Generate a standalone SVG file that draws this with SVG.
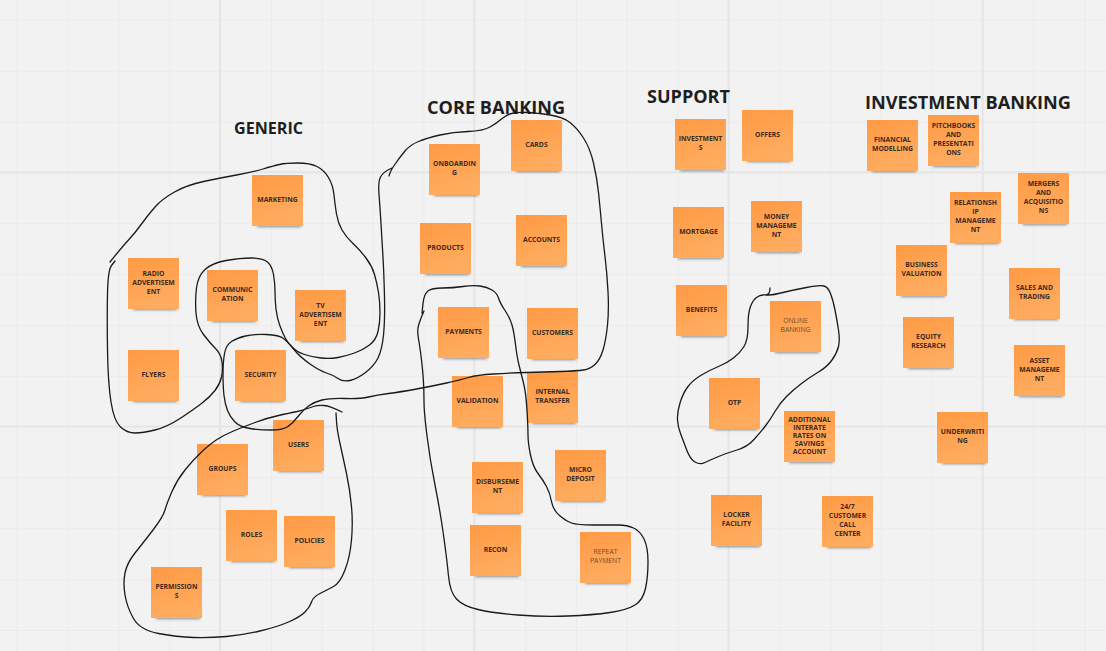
<svg xmlns="http://www.w3.org/2000/svg" width="1106" height="651" viewBox="0 0 1106 651">
<style>
.bg{fill:#f2f2f2}
.fine{fill:none;stroke:#ebebeb;stroke-width:1}
.major{fill:none;stroke:#e5e5e5;stroke-width:2}
.n{fill:url(#g)}
.s{fill:#4a4a4a;opacity:.6;filter:url(#blur)}
.t{font-family:"Open Sans","Liberation Sans",sans-serif;font-weight:700;font-size:6.8px;fill:#3b2b20;text-anchor:middle}
.l{font-weight:400;fill:#6e4d30}
.title{font-family:"Open Sans","Liberation Sans",sans-serif;font-weight:700;fill:#1e1e1e}
.ink{fill:none;stroke:#1a1a1a;stroke-width:1.3;stroke-linecap:round;stroke-linejoin:round}
</style>
<defs>
<linearGradient id="g" x1="0" y1="0" x2="0.3" y2="1">
<stop offset="0" stop-color="#ff9a44"/>
<stop offset="1" stop-color="#ffac60"/>
</linearGradient>
<filter id="blur" x="-30%" y="-100%" width="160%" height="300%"><feGaussianBlur stdDeviation="1.8"/></filter>
<pattern id="grid" patternUnits="userSpaceOnUse" x="16.7" y="19.9" width="50.84" height="50.84">
<path class="fine" d="M0 0.5H50.84M0.5 0V50.84"/>
</pattern>
</defs>
<rect class="bg" width="1106" height="651"/>
<rect width="1106" height="651" fill="url(#grid)"/>
<g id="grid-major">
<path class="major" d="M220 0V651M474.3 0V651M728.5 0V651M982.7 0V651M0 172.3H1106M0 426.6H1106"/>
</g>

<g id="titles">
<text class="title" x="234" y="134" font-size="16.5" textLength="69" lengthAdjust="spacingAndGlyphs">GENERIC</text>
<text class="title" x="427" y="113.5" font-size="18.5" textLength="138" lengthAdjust="spacingAndGlyphs">CORE BANKING</text>
<text class="title" x="647" y="103.3" font-size="18.5" textLength="83" lengthAdjust="spacingAndGlyphs">SUPPORT</text>
<text class="title" x="865" y="109" font-size="18.5" textLength="206" lengthAdjust="spacingAndGlyphs">INVESTMENT BANKING</text>
</g>

<g id="n-marketing" transform="translate(252,175)"><rect class="s" x="5" y="46" width="44" height="6"/><rect class="n" width="51" height="51"/><text class="t" x="25.5" y="26.8">MARKETING</text></g>
<g id="n-radio" transform="translate(128,258)"><rect class="s" x="5" y="46" width="44" height="6"/><rect class="n" width="51" height="51"/><text class="t" x="25.5" y="17.8">RADIO</text><text class="t" x="25.5" y="26.8">ADVERTISEM</text><text class="t" x="25.5" y="35.8">ENT</text></g>
<g id="n-communication" transform="translate(207,270)"><rect class="s" x="5" y="46" width="44" height="6"/><rect class="n" width="51" height="51"/><text class="t" x="25.5" y="22.3">COMMUNIC</text><text class="t" x="25.5" y="31.3">ATION</text></g>
<g id="n-tv" transform="translate(295,290)"><rect class="s" x="5" y="46" width="44" height="6"/><rect class="n" width="51" height="51"/><text class="t" x="25.5" y="17.8">TV</text><text class="t" x="25.5" y="26.8">ADVERTISEM</text><text class="t" x="25.5" y="35.8">ENT</text></g>
<g id="n-flyers" transform="translate(128,350)"><rect class="s" x="5" y="46" width="44" height="6"/><rect class="n" width="51" height="51"/><text class="t" x="25.5" y="26.8">FLYERS</text></g>
<g id="n-security" transform="translate(235,350)"><rect class="s" x="5" y="46" width="44" height="6"/><rect class="n" width="51" height="51"/><text class="t" x="25.5" y="26.8">SECURITY</text></g>
<g id="n-users" transform="translate(273,420)"><rect class="s" x="5" y="46" width="44" height="6"/><rect class="n" width="51" height="51"/><text class="t" x="25.5" y="26.8">USERS</text></g>
<g id="n-groups" transform="translate(197,444)"><rect class="s" x="5" y="46" width="44" height="6"/><rect class="n" width="51" height="51"/><text class="t" x="25.5" y="26.8">GROUPS</text></g>
<g id="n-roles" transform="translate(226,510)"><rect class="s" x="5" y="46" width="44" height="6"/><rect class="n" width="51" height="51"/><text class="t" x="25.5" y="26.8">ROLES</text></g>
<g id="n-policies" transform="translate(284,516)"><rect class="s" x="5" y="46" width="44" height="6"/><rect class="n" width="51" height="51"/><text class="t" x="25.5" y="26.8">POLICIES</text></g>
<g id="n-permissions" transform="translate(151,567)"><rect class="s" x="5" y="46" width="44" height="6"/><rect class="n" width="51" height="51"/><text class="t" x="25.5" y="22.3">PERMISSION</text><text class="t" x="25.5" y="31.3">S</text></g>

<g id="n-onboarding" transform="translate(429,144)"><rect class="s" x="5" y="46" width="44" height="6"/><rect class="n" width="51" height="51"/><text class="t" x="25.5" y="22.3">ONBOARDIN</text><text class="t" x="25.5" y="31.3">G</text></g>
<g id="n-cards" transform="translate(511,120)"><rect class="s" x="5" y="46" width="44" height="6"/><rect class="n" width="51" height="51"/><text class="t" x="25.5" y="26.8">CARDS</text></g>
<g id="n-products" transform="translate(420,223)"><rect class="s" x="5" y="46" width="44" height="6"/><rect class="n" width="51" height="51"/><text class="t" x="25.5" y="26.8">PRODUCTS</text></g>
<g id="n-accounts" transform="translate(516,215)"><rect class="s" x="5" y="46" width="44" height="6"/><rect class="n" width="51" height="51"/><text class="t" x="25.5" y="26.8">ACCOUNTS</text></g>
<g id="n-payments" transform="translate(438,307)"><rect class="s" x="5" y="46" width="44" height="6"/><rect class="n" width="51" height="51"/><text class="t" x="25.5" y="26.8">PAYMENTS</text></g>
<g id="n-customers" transform="translate(527,308)"><rect class="s" x="5" y="46" width="44" height="6"/><rect class="n" width="51" height="51"/><text class="t" x="25.5" y="26.8">CUSTOMERS</text></g>
<g id="n-validation" transform="translate(452,376)"><rect class="s" x="5" y="46" width="44" height="6"/><rect class="n" width="51" height="51"/><text class="t" x="25.5" y="26.8">VALIDATION</text></g>
<g id="n-internal" transform="translate(527,372)"><rect class="s" x="5" y="46" width="44" height="6"/><rect class="n" width="51" height="51"/><text class="t" x="25.5" y="22.3">INTERNAL</text><text class="t" x="25.5" y="31.3">TRANSFER</text></g>
<g id="n-disbursement" transform="translate(472,462)"><rect class="s" x="5" y="46" width="44" height="6"/><rect class="n" width="51" height="51"/><text class="t" x="25.5" y="22.3">DISBURSEME</text><text class="t" x="25.5" y="31.3">NT</text></g>
<g id="n-micro" transform="translate(555,450)"><rect class="s" x="5" y="46" width="44" height="6"/><rect class="n" width="51" height="51"/><text class="t" x="25.5" y="22.3">MICRO</text><text class="t" x="25.5" y="31.3">DEPOSIT</text></g>
<g id="n-recon" transform="translate(470,525)"><rect class="s" x="5" y="46" width="44" height="6"/><rect class="n" width="51" height="51"/><text class="t" x="25.5" y="26.8">RECON</text></g>
<g id="n-repeat" transform="translate(580,532)"><rect class="s" x="5" y="46" width="44" height="6"/><rect class="n" width="51" height="51"/><text class="t l" x="25.5" y="22.3">REPEAT</text><text class="t l" x="25.5" y="31.3">PAYMENT</text></g>

<g id="n-investments" transform="translate(675,119)"><rect class="s" x="5" y="46" width="44" height="6"/><rect class="n" width="51" height="51"/><text class="t" x="25.5" y="22.3">INVESTMENT</text><text class="t" x="25.5" y="31.3">S</text></g>
<g id="n-offers" transform="translate(742,110)"><rect class="s" x="5" y="46" width="44" height="6"/><rect class="n" width="51" height="51"/><text class="t" x="25.5" y="26.8">OFFERS</text></g>
<g id="n-mortgage" transform="translate(673,207)"><rect class="s" x="5" y="46" width="44" height="6"/><rect class="n" width="51" height="51"/><text class="t" x="25.5" y="26.8">MORTGAGE</text></g>
<g id="n-money" transform="translate(751,201)"><rect class="s" x="5" y="46" width="44" height="6"/><rect class="n" width="51" height="51"/><text class="t" x="25.5" y="17.8">MONEY</text><text class="t" x="25.5" y="26.8">MANAGEME</text><text class="t" x="25.5" y="35.8">NT</text></g>
<g id="n-benefits" transform="translate(676,285)"><rect class="s" x="5" y="46" width="44" height="6"/><rect class="n" width="51" height="51"/><text class="t" x="25.5" y="26.8">BENEFITS</text></g>
<g id="n-online" transform="translate(770,301)"><rect class="s" x="5" y="46" width="44" height="6"/><rect class="n" width="51" height="51"/><text class="t l" x="25.5" y="22.3">ONLINE</text><text class="t l" x="25.5" y="31.3">BANKING</text></g>
<g id="n-otp" transform="translate(709,378)"><rect class="s" x="5" y="46" width="44" height="6"/><rect class="n" width="51" height="51"/><text class="t" x="25.5" y="26.8">OTP</text></g>
<g id="n-additional" transform="translate(784,411)"><rect class="s" x="5" y="46" width="44" height="6"/><rect class="n" width="51" height="51"/><text class="t" x="25.5" y="10.8">ADDITIONAL</text><text class="t" x="25.5" y="18.8">INTERATE</text><text class="t" x="25.5" y="26.8">RATES ON</text><text class="t" x="25.5" y="34.8">SAVINGS</text><text class="t" x="25.5" y="42.8">ACCOUNT</text></g>
<g id="n-locker" transform="translate(711,495)"><rect class="s" x="5" y="46" width="44" height="6"/><rect class="n" width="51" height="51"/><text class="t" x="25.5" y="22.3">LOCKER</text><text class="t" x="25.5" y="31.3">FACILITY</text></g>
<g id="n-callcenter" transform="translate(822,496)"><rect class="s" x="5" y="46" width="44" height="6"/><rect class="n" width="51" height="51"/><text class="t" x="25.5" y="13.3">24/7</text><text class="t" x="25.5" y="22.3">CUSTOMER</text><text class="t" x="25.5" y="31.3">CALL</text><text class="t" x="25.5" y="40.3">CENTER</text></g>

<g id="n-financial" transform="translate(867,120)"><rect class="s" x="5" y="46" width="44" height="6"/><rect class="n" width="51" height="51"/><text class="t" x="25.5" y="22.3">FINANCIAL</text><text class="t" x="25.5" y="31.3">MODELLING</text></g>
<g id="n-pitchbooks" transform="translate(928,115)"><rect class="s" x="5" y="46" width="44" height="6"/><rect class="n" width="51" height="51"/><text class="t" x="25.5" y="13.3">PITCHBOOKS</text><text class="t" x="25.5" y="22.3">AND</text><text class="t" x="25.5" y="31.3">PRESENTATI</text><text class="t" x="25.5" y="40.3">ONS</text></g>
<g id="n-mergers" transform="translate(1018,173)"><rect class="s" x="5" y="46" width="44" height="6"/><rect class="n" width="51" height="51"/><text class="t" x="25.5" y="13.3">MERGERS</text><text class="t" x="25.5" y="22.3">AND</text><text class="t" x="25.5" y="31.3">ACQUISITIO</text><text class="t" x="25.5" y="40.3">NS</text></g>
<g id="n-relationship" transform="translate(950,192)"><rect class="s" x="5" y="46" width="44" height="6"/><rect class="n" width="51" height="51"/><text class="t" x="25.5" y="13.3">RELATIONSH</text><text class="t" x="25.5" y="22.3">IP</text><text class="t" x="25.5" y="31.3">MANAGEME</text><text class="t" x="25.5" y="40.3">NT</text></g>
<g id="n-business" transform="translate(896,245)"><rect class="s" x="5" y="46" width="44" height="6"/><rect class="n" width="51" height="51"/><text class="t" x="25.5" y="22.3">BUSINESS</text><text class="t" x="25.5" y="31.3">VALUATION</text></g>
<g id="n-sales" transform="translate(1009,268)"><rect class="s" x="5" y="46" width="44" height="6"/><rect class="n" width="51" height="51"/><text class="t" x="25.5" y="22.3">SALES AND</text><text class="t" x="25.5" y="31.3">TRADING</text></g>
<g id="n-equity" transform="translate(903,317)"><rect class="s" x="5" y="46" width="44" height="6"/><rect class="n" width="51" height="51"/><text class="t" x="25.5" y="22.3">EQUITY</text><text class="t" x="25.5" y="31.3">RESEARCH</text></g>
<g id="n-asset" transform="translate(1014,345)"><rect class="s" x="5" y="46" width="44" height="6"/><rect class="n" width="51" height="51"/><text class="t" x="25.5" y="17.8">ASSET</text><text class="t" x="25.5" y="26.8">MANAGEME</text><text class="t" x="25.5" y="35.8">NT</text></g>
<g id="n-underwriting" transform="translate(937,412)"><rect class="s" x="5" y="46" width="44" height="6"/><rect class="n" width="51" height="51"/><text class="t" x="25.5" y="22.3">UNDERWRITI</text><text class="t" x="25.5" y="31.3">NG</text></g>

<g id="connectors">
<path class="ink" d="M110,262 Q122,247 128.5,240 Q135,233 141.5,224 Q148,215 155,207 Q162,199 174.5,192 Q187,185 203.5,181.5 Q220,178 236.5,175 Q253,172 263,169 Q273,166 279.5,164.5 Q286,163 298,163 Q310,163 317,166.5 Q324,170 328.5,177.5 Q333,185 334,195 Q335,205 336.5,214 Q338,223 342,230 Q346,237 353,243.5 Q360,250 366,258 Q372,266 374.5,274.5 Q377,283 378.5,292.5 Q380,302 380,312.5 Q380,323 378,331.5 Q376,340 369.5,345 Q363,350 354.5,353 Q346,356 338,357.5 Q330,359 321,358 Q312,357 304.5,354.5 Q297,352 292.5,347.5 Q288,343 285.5,338.5 Q283,334 280,326 Q277,318 276,309 Q275,300 275,291.5 Q275,283 273.5,274.5 Q272,266 267.5,262 Q263,258 251.5,258 Q240,258 226,260.5 Q212,263 205,269.5 Q198,276 196.5,288 Q195,300 196,313 Q197,326 203.5,334.5 Q210,343 215.5,348.5 Q221,354 222,362 Q223,370 221.5,377 Q220,384 215,390.5 Q210,397 201.5,403.5 Q193,410 180,418.5 Q167,427 155,430 Q143,433 135,433 Q127,433 120.5,427 Q114,421 111,402 Q108,383 107.5,350 Q107,317 107.5,293.5 Q108,270 111.5,265.5 L115,261"/>
<path class="ink" d="M392,168 Q383,172 380.5,177 Q378,182 379,194.5 Q380,207 381,223.5 Q382,240 383,257.5 Q384,275 384.5,297.5 Q385,320 383.5,335 Q382,350 378,358 Q374,366 365.5,372.5 Q357,379 350,380.5 Q343,382 338,378.5 Q333,375 326.5,373 Q320,371 310,364 Q300,357 294,349.5 Q288,342 283.5,338.5 Q279,335 266.5,334.5 Q254,334 245.5,336 Q237,338 231.5,341.5 Q226,345 224.5,353.5 Q223,362 223,374.5 Q223,387 224,395.5 Q225,404 227.5,410.5 Q230,417 235,422 Q240,427 250,428.5 Q260,430 271.5,430 Q283,430 288,426.5 Q293,423 298,416.5 Q303,410 308.5,406 Q314,402 322,400 Q330,398 345,398.5 Q360,399 368.5,397 Q377,395 388.5,393.5 Q400,392 416.5,389 Q433,386 446.5,383 Q460,380 468.5,377.5 Q477,375 493.5,374 Q510,373 526.5,372.5 Q543,372 560,371.5 Q577,371 583.5,370 Q590,369 595,364.5 Q600,360 603,350 Q606,340 607.5,325 Q609,310 608,291.5 Q607,273 605,256.5 Q603,240 601.5,223.5 Q600,207 598.5,192.5 Q597,178 593.5,163 Q590,148 583.5,138 Q577,128 570,122.5 Q563,117 550,115 Q537,113 527,112.5 Q517,112 511.5,113.5 Q506,115 501.5,119 Q497,123 490,127 Q483,131 468,131.5 Q453,132 440,135 Q427,138 418.5,141.5 Q410,145 405,151 Q400,157 395.5,163.5 Q391,170 390,173 L389,176"/>
<path class="ink" d="M342,412 Q330,406 324,405.5 Q318,405 313.5,406.5 Q309,408 304.5,409.5 Q300,411 295,412 Q290,413 278.5,415.5 Q267,418 255,422.5 Q243,427 233.5,431 Q224,435 217,439.5 Q210,444 201.5,452 Q193,460 185,470 Q177,480 172,491.5 Q167,503 165,510 Q163,517 153,530 Q143,543 135,553 Q127,563 125,573 Q123,583 125,595 Q127,607 133.5,618.5 Q140,630 158.5,633.5 Q177,637 193.5,637.5 Q210,638 226.5,636.5 Q243,635 260,631 Q277,627 288.5,622 Q300,617 305,612 Q310,607 311.5,602 Q313,597 320,593.5 Q327,590 333.5,586.5 Q340,583 345,570 Q350,557 351.5,540 Q353,523 351.5,506.5 Q350,490 346.5,473.5 Q343,457 340,443.5 Q337,430 336.5,421.5 L336,413"/>
<path class="ink" d="M424,311 Q420,320 418.5,325.5 Q417,331 418.5,339 Q420,347 421.5,360 Q423,373 423.5,382.5 Q424,392 424,402 Q424,412 427,436 Q430,460 435,485 Q440,510 443.5,535 Q447,560 448.5,576 Q450,592 456.5,599 Q463,606 478,609.5 Q493,613 518,615 Q543,617 568,616 Q593,615 610,612.5 Q627,610 635,605 Q643,600 645.5,588.5 Q648,577 648,562 Q648,547 644,539 Q640,531 633.5,528 Q627,525 618.5,525 Q610,525 593.5,525 Q577,525 571.5,523 Q566,521 559.5,515.5 Q553,510 551.5,501.5 Q550,493 546.5,486.5 Q543,480 538,473.5 Q533,467 530.5,455 Q528,443 528,435 Q528,427 527,410 Q526,393 523.5,383 Q521,373 519,365 Q517,357 515.5,344.5 Q514,332 512,325 Q510,318 505,310.5 Q500,303 498.5,298 Q497,293 492,290 Q487,287 480,286 Q473,285 463,286.5 Q453,288 442.5,288 Q432,288 428,291 Q424,294 423,303.5 L422,313"/>
<path class="ink" d="M770,288 Q770,293 768,294 Q766,295 763,295 Q760,295 756.5,297.5 Q753,300 750.5,306.5 Q748,313 748,326.5 Q748,340 744,346.5 Q740,353 733.5,358 Q727,363 718.5,366.5 Q710,370 701.5,375 Q693,380 688,386.5 Q683,393 680,403 Q677,413 677.5,420 Q678,427 680.5,433.5 Q683,440 686.5,449.5 Q690,459 695,462 Q700,465 705,462.5 Q710,460 718.5,456.5 Q727,453 737,450 Q747,447 753.5,440 Q760,433 765,426.5 Q770,420 775,411.5 Q780,403 786.5,396.5 Q793,390 801.5,383.5 Q810,377 818.5,372 Q827,367 832,360 Q837,353 838.5,346.5 Q840,340 838.5,330 Q837,320 835,310 Q833,300 830.5,293.5 Q828,287 824,286 Q820,285 806.5,287.5 Q793,290 783,292.5 Q773,295 769.5,295 L766,295"/>
</g>
</svg>
